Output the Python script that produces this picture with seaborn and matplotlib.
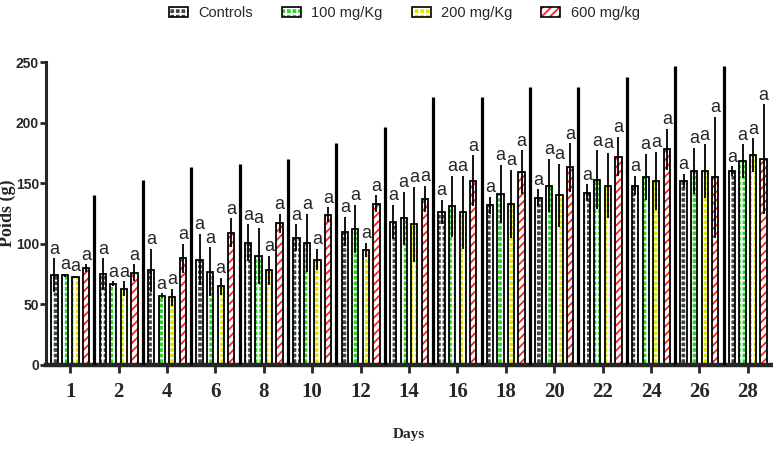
import numpy as np
import pandas as pd
import matplotlib
matplotlib.use("Agg")
import matplotlib.pyplot as plt
import matplotlib.colors as mcolors
import seaborn as sns
from matplotlib import font_manager as fm
from matplotlib.patches import Patch, Rectangle
from matplotlib.container import BarContainer

# ---------------- data ----------------
days = ["1", "2", "4", "6", "8", "10", "12", "14", "16", "18", "20", "22", "24", "26", "28"]
groups = ["Controls", "100 mg/Kg", "200 mg/Kg", "600 mg/kg"]

controls = [74, 75, 78, 87, 101, 105, 110, 118, 126, 132, 138, 142, 148, 152, 160]
controls_sd = [14, 13, 18, 21, 15, 11, 12, 14, 10, 7, 7, 7, 8, 6, 4]
mg100 = [74, 67, 57, 77, 90, 101, 112, 121, 131, 141, 148, 153, 155, 160, 168]
mg100_sd = [1, 2, 2, 20, 23, 24, 20, 22, 25, 24, 22, 24, 19, 19, 14]
mg200 = [72.5, 63, 56, 65, 78, 87, 95, 116, 126, 133, 140, 148, 152, 160, 173]
mg200_sd = [1, 6, 7, 7, 12, 9, 6, 31, 30, 28, 26, 27, 24, 22, 14]
mg600 = [80, 76, 88, 109, 117, 124, 133, 137, 152, 159, 163, 172, 178, 155, 170]
mg600_sd = [3, 7, 12, 12, 8, 6, 7, 11, 21, 18, 20, 16, 17, 50, 45]

separator_tops = [140, 153, 163, 166, 170, 183, 196, 221, 221, 229, 229, 238, 247, 247]
letter = "a"

y_ticks = [0, 50, 100, 150, 200, 250]

# ---------------- style ----------------
face_colors = {"Controls": "#3d4a4b", "100 mg/Kg": "#2ad62c",
               "200 mg/Kg": "#dbe800", "600 mg/kg": "#ffffff"}
hatch_colors = {"Controls": "#ffffff", "100 mg/Kg": "#ffffff",
                "200 mg/Kg": "#ffffff", "600 mg/kg": "#ff2020"}
hatches = {"Controls": "+++", "100 mg/Kg": "+++",
           "200 mg/Kg": "+++", "600 mg/kg": "////"}

sns.set_style("ticks")
plt.rcParams["hatch.linewidth"] = 1.3

names = {f.name for f in fm.fontManager.ttflist}
def pick(*cands, default="DejaVu Sans"):
    for c in cands:
        if c in names:
            return c
    return default

narrow = pick("Liberation Sans Narrow", "Liberation Sans")
serif = pick("Liberation Serif", "DejaVu Serif")
plt.rcParams["font.family"] = [narrow, "DejaVu Sans"]
SANS = [narrow, "DejaVu Sans"]
SERIF = [serif, "DejaVu Serif"]

# ---------------- frame ----------------
df = pd.DataFrame({
    "Day": days * 4,
    "Group": np.repeat(groups, len(days)),
    "Poids": np.concatenate([controls, mg100, mg200, mg600]),
})
means = {"Controls": controls, "100 mg/Kg": mg100, "200 mg/Kg": mg200, "600 mg/kg": mg600}
sds = {"Controls": controls_sd, "100 mg/Kg": mg100_sd, "200 mg/Kg": mg200_sd, "600 mg/kg": mg600_sd}

W, H = 773, 449
fig = plt.figure(figsize=(W / 100, H / 100), dpi=100)
ax = fig.add_axes([46 / W, 1 - 365 / H, 726 / W, 303 / H])

sns.barplot(data=df, x="Day", y="Poids", hue="Group", order=days, hue_order=groups,
            palette=face_colors, width=0.87, gap=0.4, errorbar=None, saturation=1,
            legend=False, ax=ax)

def match_group(bar):
    fc = np.array(bar.get_facecolor()[:3])
    return min(groups, key=lambda g: np.sum((np.array(mcolors.to_rgb(face_colors[g])) - fc) ** 2))

bar_containers = [c for c in list(ax.containers) if isinstance(c, BarContainer)]
for cont in bar_containers:
    bars = sorted([b for b in cont if b is not None], key=lambda b: b.get_x())
    if not bars:
        continue
    g = match_group(bars[0])
    xs = []
    for b in bars:
        b.set_hatch(hatches[g])
        b.set_edgecolor(hatch_colors[g])
        b.set_linewidth(0)
        ax.add_patch(Rectangle(b.get_xy(), b.get_width(), b.get_height(), fill=False,
                               edgecolor="black", lw=1.3, zorder=b.get_zorder() + 0.1))
        xs.append(b.get_x() + b.get_width() / 2)
    ax.errorbar(xs, means[g], yerr=sds[g], fmt="none", ecolor="black",
                elinewidth=1.3, capsize=0, zorder=4)
    for x, m, s in zip(xs, means[g], sds[g]):
        ax.annotate(letter, (x, m + s), xytext=(0, 0.5), textcoords="offset points",
                    ha="center", va="bottom", fontsize=13, family=SANS)

ax.vlines(np.arange(len(days) - 1) + 0.5, 0, separator_tops, color="black", lw=2.3, zorder=3)

ax.set_xlim(-0.5, len(days) - 0.5)
ax.set_ylim(0, 250)
ax.set_yticks(y_ticks)
ax.set_yticklabels([str(v) for v in y_ticks], fontsize=10, fontweight="bold", family=SANS)
ax.set_xticks(range(len(days)))
ax.set_xticklabels(days, fontsize=15, fontweight="bold", family=SERIF)
ax.tick_params(axis="y", length=4, width=2, pad=1, direction="out")
ax.tick_params(axis="x", length=6, width=2, pad=6, direction="out")

sns.despine(ax=ax)
ax.spines["left"].set_linewidth(2.2)
ax.spines["bottom"].set_linewidth(3.2)

ax.set_ylabel("Poids (g)", fontsize=13, fontweight="bold", family=SERIF)
ax.yaxis.set_label_coords(-0.0413, 0.5)
ax.set_xlabel("Days", fontsize=11, fontweight="bold", family=SERIF)
ax.xaxis.set_label_coords(0.5, -0.207)

handles = []
for g in groups:
    fill = Patch(facecolor=face_colors[g], edgecolor=hatch_colors[g], hatch=hatches[g], linewidth=0)
    outline = Patch(facecolor="none", edgecolor="black", linewidth=1.2)
    handles.append((fill, outline))
fig.legend(handles, groups, loc="center", bbox_to_anchor=(0.523, 1 - 13 / H), ncol=4,
           frameon=False, handlelength=1.3, handleheight=0.75, columnspacing=2.0,
           handletextpad=0.7, borderpad=0.2, prop={"family": SANS, "size": 10.5})

fig.savefig("out.png", dpi=100)
